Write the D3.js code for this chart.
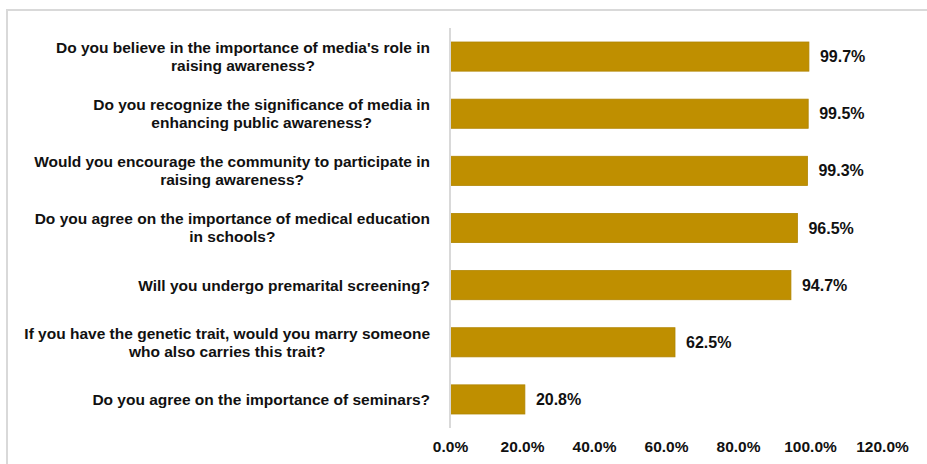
<!DOCTYPE html>
<html>
<head>
<meta charset="utf-8">
<script src="https://cdn.jsdelivr.net/npm/d3@7"></script>
<style>
  body { margin: 0; background: #fff; }
  text { font-family: "Liberation Sans", Arial, sans-serif; font-weight: bold; fill: #111; }
</style>
</head>
<body>
<svg id="chart"></svg>
<script>
const questions = [
  "Do you believe in the importance of media's role in\nraising awareness?",
  "Do you recognize the significance of media in\nenhancing public awareness?",
  "Would you encourage the community to participate in\nraising awareness?",
  "Do you agree on the importance of medical education\nin schools?",
  "Will you undergo premarital screening?",
  "If you have the genetic trait, would you marry someone\nwho also carries this trait?",
  "Do you agree on the importance of seminars?"
];
const percents = [99.7, 99.5, 99.3, 96.5, 94.7, 62.5, 20.8];
const ticks = [0, 20, 40, 60, 80, 100, 120];

const W = 927, H = 464;
const svg = d3.select("#chart").attr("width", W).attr("height", H);

// frame (only top and left edges visible)
svg.append("path")
  .attr("d", `M7,${H} L7,10 L${W},10`)
  .attr("fill", "none")
  .attr("stroke", "#d9d9d9")
  .attr("stroke-width", 2);

const x = d3.scaleLinear().domain([0, 120]).range([450, 882]);
const y = d3.scaleBand().domain(questions).range([28, 428]).paddingInner(0.49).paddingOuter(0.245);

svg.append("g")
  .selectAll("rect")
  .data(percents)
  .enter()
  .append("rect")
  .attr("x", x(0))
  .attr("y", (d, i) => y(questions[i]))
  .attr("width", d => x(d) - x(0))
  .attr("height", y.bandwidth())
  .attr("fill", "#bf8f00")
  .attr("stroke", "#b08400")
  .attr("stroke-width", 0.8);

// vertical axis line
svg.append("line")
  .attr("x1", x(0)).attr("x2", x(0))
  .attr("y1", 28).attr("y2", 428)
  .attr("stroke", "#d9d9d9")
  .attr("stroke-width", 2);

// value labels
svg.append("g")
  .selectAll("text")
  .data(percents)
  .enter()
  .append("text")
  .attr("x", d => x(d) + 11)
  .attr("y", (d, i) => y(questions[i]) + y.bandwidth() / 2)
  .attr("dy", "0.35em")
  .attr("font-size", 16)
  .text(d => d.toFixed(1) + "%");

// x axis tick labels
const xAxis = d3.axisBottom(x).tickValues(ticks).tickSize(0).tickPadding(0)
  .tickFormat(d => d.toFixed(1) + "%");
const gx = svg.append("g").attr("transform", "translate(0,441)").call(xAxis);
gx.select(".domain").remove();
gx.selectAll("text")
  .attr("font-size", 15.5)
  .attr("font-family", null)
  .attr("fill", "#111");

// category labels: lines centred on each other, block right-aligned
const labelRight = 430, lineH = 18;
questions.forEach(q => {
  const lines = q.split("\n");
  const g = svg.append("g");
  const cy = y(q) + y.bandwidth() / 2;
  const t = g.selectAll("text")
    .data(lines)
    .enter()
    .append("text")
    .attr("font-size", 15.5)
    .attr("text-anchor", "middle")
    .attr("y", (d, i) => cy + (i - (lines.length - 1) / 2) * lineH)
    .attr("dy", "0.35em")
    .text(d => d);
  const w = d3.max(t.nodes(), n => n.getComputedTextLength());
  t.attr("x", labelRight - w / 2);
});
</script>
</body>
</html>
